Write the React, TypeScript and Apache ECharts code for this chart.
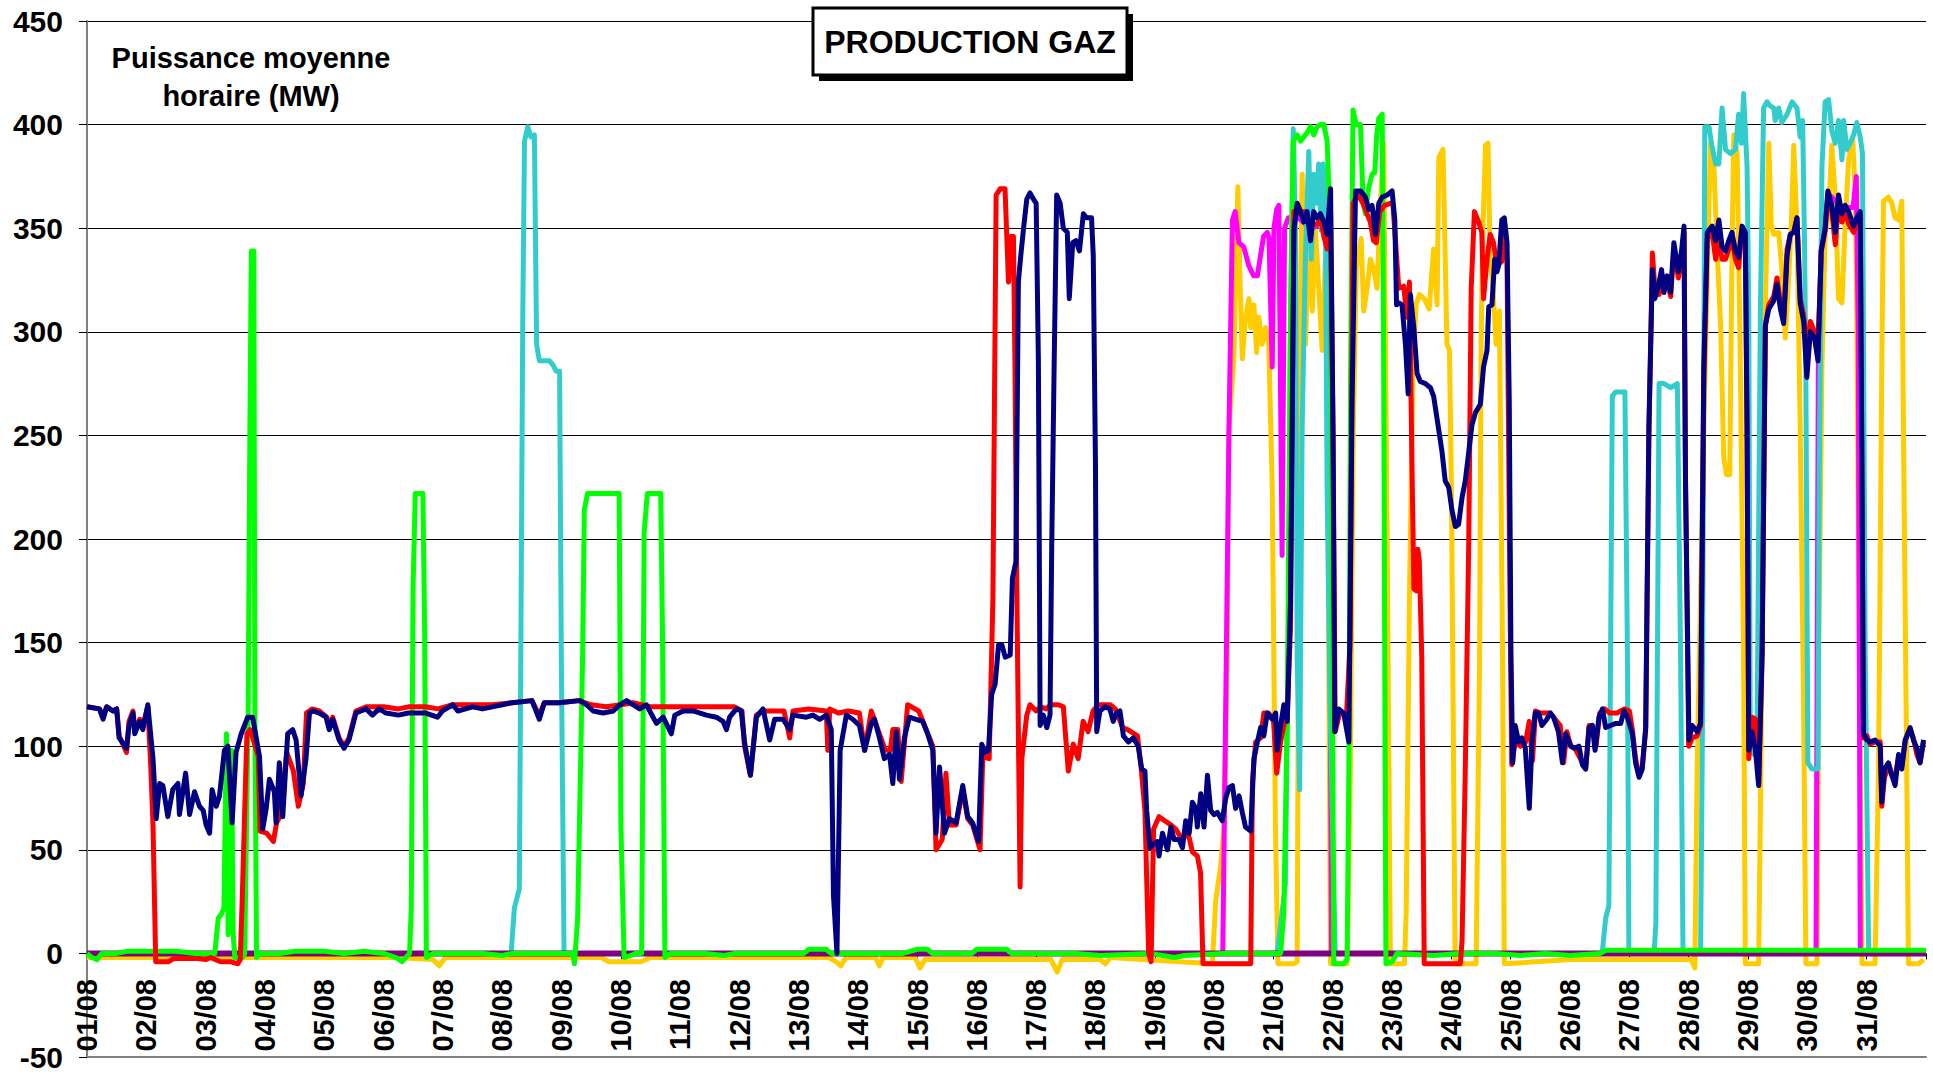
import React, { useEffect, useRef } from "react";
import * as echarts from "echarts";

const DAY_LABELS = ["01/08","02/08","03/08","04/08","05/08","06/08","07/08","08/08","09/08","10/08","11/08","12/08","13/08","14/08","15/08","16/08","17/08","18/08","19/08","20/08","21/08","22/08","23/08","24/08","25/08","26/08","27/08","28/08","29/08","30/08","31/08"];
const Y_MIN = -50, Y_MAX = 450, Y_STEP = 50, HOURS = 744;
const TITLE = "PRODUCTION GAZ";
const Y_NAME = "Puissance moyenne\nhoraire (MW)";

// [hour since 01/08 00:00, MW]
const NAVY = [[0,119],[5,118],[6.5,113],[8,119],[10.5,117],[12,118],[13,104],[16,99],[17,110],[18.6,116],[19.3,106],[21.3,112],[22.6,108],[24.6,120],[26.7,94],[28,65],[29.4,82],[30.7,81],[32.7,66],[34.7,79],[36.8,82],[37.4,67],[39.9,87],[41.5,67],[43.5,78],[45.5,71],[47,69],[48.2,62],[49.6,58],[50.6,79],[52.3,71],[53.6,76],[55.6,98],[57,100],[58.7,63],[60.3,97],[62.4,106],[65,114],[67,114],[69.8,95],[71.1,60],[72.5,70],[73.8,84],[75.8,78],[76.5,63],[77.8,92],[79.2,66],[81.2,106],[83.2,108],[84.6,103],[86.6,76],[88.6,94],[90,116],[91.3,117],[94,116],[96.7,114],[98,108],[99.4,113],[102,103],[104,99],[106,103],[108.8,116],[112.9,118],[115.5,115],[118.2,118],[121,116],[126,115],[130,116],[137,116],[141.8,114],[143.8,117],[148,120],[150,117],[156,119],[160,118],[164,119],[168,120],[172,121],[180,122],[183,113],[185,121],[191,121],[199.4,122],[202.1,120],[204.8,117],[208.8,116],[212.9,117],[215.6,120],[218.3,122],[221,120],[223.6,118],[226.3,120],[229,114],[230.4,111],[233.1,114],[236.4,106],[237.8,115],[241.2,117],[245.2,117],[250.6,115],[254.6,114],[257.3,112],[258.7,108],[260,114],[262.7,118],[264.7,117],[266,102],[268.4,86],[270.8,114],[273.5,118],[276.2,103],[278.2,113],[281.6,113],[284.3,108],[285.6,115],[291,114],[293.7,115],[296.4,113],[299.1,115],[301.1,108],[302,28],[303.4,0],[304.7,98],[307.2,115],[309.8,113],[312.5,110],[314.6,98],[317.3,111],[318.6,113],[320.6,104],[322.6,94],[324.7,96],[326,82],[327.4,107],[328.7,84],[330.7,104],[332.7,114],[335.4,113],[338.1,112],[340.1,106],[342.2,98],[343.5,58],[344.9,90],[346.9,58],[348.9,65],[351.6,63],[354.3,81],[356.3,66],[358.3,63],[360.7,54],[362,101],[363.4,97],[364.7,98],[366,125],[367.4,130],[368.8,149],[370.1,149],[371.5,143],[373.5,144],[374.4,181],[375.8,189],[376.8,324],[377.8,337],[378.9,350],[380.2,364],[381.5,367],[382.9,364],[384,362],[384.9,286],[385.6,110],[386.9,115],[388.3,109],[389.6,115],[390.3,197],[391.3,286],[392.3,366],[393.7,362],[395,350],[396.6,348],[397.4,316],[398.8,343],[400.1,344],[401.5,339],[403.1,357],[404.4,355],[406.4,355],[407.1,337],[408,235],[408.5,107],[409.8,117],[411.8,119],[413.8,118],[415.2,112],[416.5,116],[417.9,117],[419.3,105],[421.3,102],[423.3,104],[425.3,100],[426.7,89],[428,88],[428.7,69],[430,51],[431.7,53],[433.1,54],[433.7,47],[435.1,58],[437.1,50],[438.5,61],[439.8,55],[441.8,55],[443.2,51],[444.5,64],[445.9,58],[447.2,73],[448.6,70],[449.2,61],[450.6,77],[451.9,61],[453.3,86],[454.6,69],[456,67],[457.3,68],[459.3,64],[460.7,75],[462,80],[463.4,81],[464.7,70],[466.1,76],[467.4,68],[468.7,61],[470.8,59],[472.1,94],[473.5,102],[474.8,109],[476.1,105],[477.5,116],[479.5,113],[480.9,116],[481.5,98],[482.9,110],[484.2,120],[485.6,112],[486.9,170],[488.3,349],[489.6,362],[491,358],[492.3,353],[493.6,358],[495,344],[496.3,358],[497.7,355],[499,357],[500.4,353],[501.7,347],[503.1,369],[504.1,253],[504.8,107],[506.4,118],[508.4,116],[510.5,102],[511.8,266],[513.2,368],[515.2,368],[517.2,365],[518.6,359],[519.9,361],[521.3,347],[522.6,362],[524,365],[526,366],[528,368],[529.1,354],[529.8,313],[530.7,314],[532,313],[533.4,294],[534.5,270],[535.4,318],[536.8,302],[538.1,280],[539.4,276],[541.5,275],[543.5,273],[544.8,269],[546.2,258],[548.2,242],[549.5,228],[550.9,225],[552.2,214],[553.6,206],[554.9,207],[556.3,220],[557.6,228],[559,242],[560.3,255],[561.7,261],[563.7,265],[565,283],[566.4,291],[567.1,312],[568.4,313],[569.5,335],[570.4,329],[571.1,332],[572.4,354],[573.4,355],[574.5,343],[575.4,266],[576.1,143],[576.8,92],[577.8,110],[579.2,102],[580.5,104],[581.9,99],[583.5,70],[584.6,102],[585.9,116],[587.3,116],[588.6,110],[590.6,113],[592,116],[593.3,114],[595.3,107],[596.9,92],[598.2,106],[600.3,100],[601.6,99],[603.6,100],[605,91],[606.3,89],[607.7,109],[609,110],[610.1,98],[611.7,114],[613.1,118],[614.4,109],[616.4,110],[618.5,111],[620.5,111],[621.8,117],[623.2,114],[625.2,106],[626.5,92],[627.9,85],[629.2,89],[630.6,109],[631.9,255],[633.3,330],[634.3,316],[635.7,322],[637,330],[638,319],[639.3,327],[640.7,319],[642,343],[643.8,329],[645.1,339],[646.1,351],[646.7,228],[648.1,103],[649.4,110],[651.4,107],[652.8,111],[654.1,283],[655.5,348],[657.5,351],[658.9,344],[660.2,354],[661.5,341],[662.9,339],[664.2,344],[665.5,348],[666.9,339],[668.2,336],[669.6,351],[670.9,348],[671.6,255],[672.3,98],[673.6,107],[675,98],[676.3,81],[677.7,145],[679,303],[680.4,311],[682.4,315],[683.7,323],[685.1,311],[686.4,304],[687.8,337],[689.1,347],[690.5,348],[691.8,355],[693.1,314],[694.5,305],[695.8,278],[697.2,300],[698.9,297],[700.3,286],[701.6,339],[703.2,350],[704.3,368],[705.9,361],[707.3,348],[708.6,366],[710,357],[711.3,361],[712.7,358],[714.7,351],[716,355],[717.4,358],[718.1,228],[718.7,106],[720.1,103],[721.4,102],[723.4,103],[725.5,100],[726.1,73],[727.2,89],[728.8,92],[730.2,86],[731.5,81],[732.9,96],[734.2,89],[735.6,103],[737.6,109],[738.9,103],[740.3,99],[741.6,92],[743,103]];

const RED = [[0,119],[5,118],[6.5,115],[8,119],[10.5,117],[12,118],[13,105],[16,97],[17,112],[18.6,117],[19.3,108],[21.3,113],[22.6,110],[24.6,119],[25.8,90],[26.7,62],[27.8,-4],[30,-4],[33,-4],[35,-2.5],[40,-2.5],[45,-2.5],[48,-3],[50,-2],[54,-4],[58,-4],[61,-5],[62,-3],[62.8,26],[64.1,82],[64.7,106],[66,108],[67.3,103],[69.3,95],[70,59],[72.7,58],[75.4,54],[76.7,63],[78.1,66],[80.8,97],[83.5,88],[85.5,71],[87.5,82],[88.8,116],[91,118],[94,117],[97,114],[98,110],[99.4,114],[102,104],[104,100],[106,104],[108.8,117],[113,119],[120,119],[126,118],[130,119],[137,119],[142,118],[148,120],[156,120],[164,120],[172,121],[180,122],[183,115],[185,121],[191,121],[199,122],[204,120],[210,119],[216,120],[221,121],[228,119],[235,119],[245,119],[255,119],[262,119],[265,117],[266,100],[268.4,86],[270.8,115],[273.5,117],[282,117],[284.3,104],[285.6,117],[292,118],[299.1,117],[299.7,98],[300.5,118],[304,116],[308,117],[312.5,116],[314.6,98],[317.3,117],[320.6,106],[323,98],[325,98],[326,108],[328,108],[329.4,83],[332,120],[336.5,117],[339.5,108],[342.2,100],[343.5,50],[346,55],[347.5,87],[348.9,62],[351.6,62],[354.3,79],[356.3,65],[358.3,62],[361.3,50],[362.4,95],[365,94],[366.5,171],[367.8,366],[369.4,369],[371.4,369],[372.8,324],[373.7,346],[374.8,346],[375.4,286],[376.1,184],[377.5,32],[378.2,94],[380.2,115],[381.5,120],[384,117],[385.9,119],[388,118],[390,120],[393,120],[395,119],[397,88],[399,101],[401,94],[403,112],[405,107],[407,117],[409,120],[414,120],[416,118],[419,109],[421,108],[425,105],[426.5,89],[428,69],[429.5,0],[430.5,-4],[431.5,60],[433.7,66],[436,64],[438.5,62],[440.5,60],[443,55],[445.5,58],[447.2,49],[449.2,47],[450.5,39],[451.5,-5],[460,-5],[470.8,-5],[471.5,83],[472.8,102],[474.8,104],[476.1,116],[478,116],[480,113],[481.3,87],[482.9,102],[484.2,110],[485.6,116],[486.9,157],[488.3,358],[490.3,357],[492.3,358],[494.3,352],[496.3,352],[497.7,352],[499,355],[500.4,346],[501.7,340],[503.1,358],[504.1,250],[505,107],[507,117],[509.5,114],[511,150],[512.2,362],[514.2,366],[516.2,362],[519.2,353],[520.5,344],[521.6,343],[523,358],[525,361],[527.3,362],[528.3,362],[529.6,340],[530.7,321],[532.7,322],[534,307],[535,324],[536,239],[536.8,176],[537.8,175],[538.4,195],[539,190],[540,143],[541,-5],[545,-5],[550,-5],[555.6,-5],[556.3,6],[557.6,88],[559,198],[560,321],[561.3,358],[563,353],[564.3,348],[565,316],[566.4,335],[567.7,347],[569,343],[570.4,332],[572.4,334],[573.4,354],[574.5,334],[575.7,170],[576.4,91],[577.8,102],[580,100],[582,102],[583.5,112],[584.8,93],[586,117],[588,116],[592,116],[596,110],[597.4,92],[598.7,107],[600.3,100],[602,99],[605,92],[606.3,89],[607.7,110],[609,110],[610.5,100],[612,116],[614,118],[616,116],[619,116],[622,118],[624,117],[625.2,108],[626.5,94],[627.9,86],[629.2,90],[630.6,108],[631.9,250],[633.3,338],[634.5,318],[636,318],[637.5,327],[639.3,325],[640.7,317],[642,340],[643.8,326],[645.1,335],[646.1,348],[646.7,230],[648,100],[649.4,104],[651.4,105],[652.8,110],[654.1,275],[655.5,345],[657.5,348],[658.9,335],[660.2,345],[661.5,335],[662.9,335],[664.2,340],[665.5,345],[666.9,335],[668.2,331],[669.6,349],[670.9,346],[671.6,250],[672.3,94],[673.6,114],[675,113],[676.3,82],[677.7,145],[679,303],[680.4,313],[682.4,317],[683.7,326],[685.1,314],[686.4,306],[687.8,340],[689.1,347],[690.5,348],[691.8,355],[693.1,316],[694.5,308],[695.8,290],[697.2,305],[698.9,300],[700.3,290],[701.6,339],[703.2,349],[704.3,366],[705.9,358],[707.3,342],[708.6,362],[710,353],[711.3,358],[712.7,352],[714.7,348],[716,353],[717.4,355],[718.1,228],[718.7,104],[720.1,105],[721.4,101],[723.4,102],[725.5,102],[726.1,71],[727.2,85],[728.8,90],[730.2,86],[731.5,85],[732.9,95],[734.2,91],[735.6,103],[737.6,108],[738.9,104],[740.3,96],[741.6,92],[743,102]];

const GREEN = [[0,0],[2,-2],[4,-3],[6,0],[12,0],[16,1],[24,1],[36,1],[44,0],[51.7,0],[53.1,17],[54.4,19],[55.4,22],[56.4,106],[57.1,9],[58.5,98],[59.1,10],[59.8,-2],[63,-2],[63.8,0],[65.2,115],[65.9,253],[66.5,339],[67.5,339],[67.9,116],[68.6,-2],[70,0],[78,0],[84,1],[96,1],[104,0],[112,1],[120,0],[125,-2],[127.5,-4],[130.5,0],[131.2,22],[131.9,176],[132.8,222],[135.9,222],[136.6,157],[137.3,-2],[140,0],[160,0],[168,-1],[172,0],[196.5,0],[197.2,-5],[198.5,17],[200.5,143],[201.2,214],[202.5,222],[215.3,222],[216,61],[217.3,-2],[220,-1],[222,0],[224.4,0],[225.4,203],[226.7,222],[232.1,222],[232.8,157],[233.8,-2],[236,0],[250,0],[258,-1],[262,0],[290,0],[292,2],[299,2],[301,0],[330,0],[336,2],[340,2],[342,0],[358,0],[360,2],[372,2],[374,0],[400,0],[410,-1],[430,0],[440,-2],[444,-1],[460,0],[482.9,0],[484.2,20],[485.6,116],[486.9,307],[488,392],[489.6,395],[491,392],[492.3,394],[493.6,396],[495,399],[496.3,395],[497.7,399],[499,400],[500.4,400],[501.7,392],[503.1,348],[503.8,143],[504.4,-5],[508.4,-5],[509.8,-3],[510.5,88],[511.2,280],[512.2,407],[513.5,400],[515.2,400],[516.3,362],[517.2,357],[518.6,370],[519.9,376],[521,377],[521.8,395],[522.6,403],[524,405],[524.6,280],[525.5,-5],[528,-4],[530,0],[545,-1],[555,0],[570,0],[580,-1],[590,0],[600,-1],[612,0],[614.5,1.5],[744,1.5]];

const CYAN = [[0,0],[171.6,0],[172.9,22],[174.9,31],[175.5,143],[176.3,307],[177,392],[178.3,399],[179.6,394],[181,395],[181.9,294],[183,286],[187.1,286],[188.5,284],[189.8,281],[191.2,281],[191.9,143],[193,0],[481.5,0],[483.5,20],[484.8,33],[486.2,170],[486.9,307],[488,398],[488.9,349],[489.6,143],[490.6,79],[491.6,253],[492.9,335],[494.3,387],[495.3,335],[496.3,376],[497.7,362],[498.3,381],[499.3,349],[500.1,381],[501,362],[501.7,225],[503,114],[505,0],[613,0],[614.4,17],[615.7,23],[617.1,269],[618.5,271],[622.2,271],[623.2,145],[623.8,0],[634,0],[634.7,14],[636,275],[638,275],[640.7,273],[643.4,275],[644.7,145],[645.7,0],[652.8,0],[653.5,100],[654.5,399],[656.2,399],[657.2,391],[658.9,381],[660.2,381],[661.5,408],[662.9,388],[664.9,386],[666.9,388],[668.2,405],[669.3,391],[670.2,415],[671.6,380],[672.3,311],[672.9,98],[674.3,96],[675.6,97],[677,311],[678.3,408],[679.7,411],[681,409],[682.4,408],[683,402],[684.4,408],[685.7,401],[687.8,405],[689.8,411],[691.8,408],[693.1,394],[694.1,402],[694.9,339],[695.4,278],[696.2,92],[697.9,89],[700.3,89],[700.8,228],[701.9,380],[703.2,411],[704.6,412],[705.9,397],[707.3,391],[708.6,402],[710,383],[710.7,402],[712,388],[713.3,391],[714.7,395],[716,401],[717.4,394],[718.3,386],[719.4,145],[720.8,0],[744,0]];

const YELLOW = [[0,-2],[60,-2],[125,-2],[140,-3],[142.5,-6],[145,-2],[208,-2],[211,-4],[224,-4],[228,-2],[300,-2],[303,-4],[305,-6],[307,-2],[319,-2],[320.6,-6],[322,-2],[335,-2],[337,-7],[339,-3],[390,-3],[392.5,-9],[394.5,-3],[410,-3],[412,-5],[414,-2],[455.3,-5],[456.6,25],[458.6,42],[460,61],[461.3,143],[462,253],[462.7,266],[464,288],[465.6,370],[466.4,327],[467.4,287],[468.7,307],[470.1,316],[470.8,302],[472.1,313],[473.2,290],[474.1,307],[475.4,294],[476.8,302],[478.1,294],[479.5,225],[480.8,61],[481.8,-5],[488.3,-5],[489.6,-4],[490.3,198],[491,321],[491.6,376],[492.6,335],[493,294],[494.3,349],[495.7,310],[497,349],[498.4,320],[499.7,291],[501,335],[501.7,290],[503.1,-5],[509.8,-5],[511.1,88],[512.3,253],[513.5,330],[515.5,345],[516.5,310],[517.9,321],[519.2,335],[520.6,330],[521.9,321],[523.3,362],[524.6,391],[526,200],[527.3,-5],[533,-5],[533.7,20],[535,170],[536.4,280],[537.7,313],[539,318],[541,316],[543,311],[544.8,340],[546.2,313],[546.9,384],[548.6,388],[550.2,294],[551.2,291],[552,225],[553.5,-5],[562,-5],[563.4,143],[564,294],[564.7,348],[565.8,390],[566.8,391],[567.7,335],[568.8,321],[570.1,294],[571.4,310],[572.7,143],[573.4,-5],[600,-3],[640,-3],[649,-3],[650.5,-7],[651.4,88],[652.8,172],[654.1,255],[655.5,325],[656.8,391],[658.2,380],[659.5,339],[660.9,303],[662.2,239],[663.3,231],[664.6,231],[665.4,325],[666.2,395],[667.6,386],[668.9,283],[670.2,145],[670.9,-5],[676.3,-5],[677.7,145],[679,311],[680.4,391],[681.4,352],[682.4,347],[684.4,348],[685.7,330],[687.1,297],[688.4,325],[689.5,352],[690.5,390],[691.8,350],[693.1,255],[694.5,117],[695.4,-5],[699.9,-5],[700.6,145],[701.9,283],[703.2,347],[704.6,358],[705.9,390],[707.3,365],[708.6,316],[710,314],[711.3,352],[712.7,383],[714.3,394],[715.4,366],[716,311],[717.4,89],[718.1,-5],[723.4,-5],[724.8,89],[726.1,283],[726.8,363],[728.8,365],[730.2,362],[731.5,355],[732.9,354],[734.2,363],[734.9,250],[736.2,89],[736.9,-5],[741,-5],[743,-3]];

const MAGENTA = [[0,0],[459.5,0],[460.5,100],[462,253],[463.4,354],[464.5,358],[466,343],[468,341],[470,332],[472,327],[473.5,327],[474.8,337],[476,346],[477.5,348],[478.2,345],[479.5,283],[480.2,350],[481.3,359],[482.2,361],[482.8,280],[483.5,192],[484.5,350],[486,355],[490,355],[495,350],[500,352],[501.7,350],[502.7,200],[503.5,0],[699.5,0],[700.5,300],[702,350],[705,366],[710,360],[714.5,360],[715.8,375],[716.6,300],[717.4,0],[744,0]];

const PURPLE = [[0,0],[744,0]];

const SERIES = [
  { name: "Yellow", data: YELLOW, color: "#FFCC00", width: 5 },
  { name: "Magenta", data: MAGENTA, color: "#FF00FF", width: 5 },
  { name: "Cyan", data: CYAN, color: "#33CCCC", width: 5 },
  { name: "Purple", data: PURPLE, color: "#800080", width: 6 },
  { name: "Green", data: GREEN, color: "#00FF00", width: 5 },
  { name: "Red", data: RED, color: "#FF0000", width: 5 },
  { name: "Navy", data: NAVY, color: "#000080", width: 5 },
];

const FONT = "'Liberation Sans', Arial, sans-serif";

export default function App() {
  const ref = useRef<HTMLDivElement>(null);
  useEffect(() => {
    if (!ref.current) return;
    const chart = echarts.init(ref.current, undefined, { renderer: "svg" });
    const dayFormatter = (v: number) => {
      const i = Math.round(v / 24);
      return Math.abs(v - i * 24) < 0.01 && i >= 0 && i < DAY_LABELS.length ? DAY_LABELS[i] : "";
    };
    chart.setOption({
      animation: false,
      backgroundColor: "#ffffff",
      grid: { left: 87, right: 7, top: 21, bottom: 23, containLabel: false, outerBoundsMode: "none" },
      xAxis: [
        {
          type: "value", min: 0, max: HOURS, interval: 24, position: "bottom",
          axisLine: { show: true, onZero: false, lineStyle: { color: "#808080", width: 2 } },
          axisTick: { show: false },
          axisLabel: {
            rotate: 90, margin: -78, fontSize: 29, fontWeight: "bold", fontFamily: FONT, color: "#000",
            formatter: dayFormatter,
          },
          splitLine: { show: false },
        },
        {
          type: "value", min: 0, max: HOURS, interval: 24, position: "bottom",
          axisLine: { show: false, onZero: true, onZeroAxisIndex: 0 },
          axisTick: { show: true, length: 6, lineStyle: { color: "#000000", width: 1 } },
          axisLabel: { show: false }, splitLine: { show: false },
        },
      ],
      yAxis: {
        type: "value", min: Y_MIN, max: Y_MAX, interval: Y_STEP,
        axisLine: { show: true, onZero: false, lineStyle: { color: "#808080", width: 2 } },
        axisTick: { show: true, length: 8, lineStyle: { color: "#000" } },
        axisLabel: { margin: 24, fontSize: 30, fontWeight: "bold", fontFamily: FONT, color: "#000" },
        splitLine: { show: true, lineStyle: { color: "#000000", width: 1 } },
      },
      series: SERIES.map((s) => ({
        name: s.name, type: "line", data: s.data, showSymbol: false, symbol: "none",
        silent: true, xAxisIndex: 0,
        lineStyle: { color: s.color, width: s.width, join: "round" },
        itemStyle: { color: s.color },
      })),
      graphic: [
        { type: "rect", shape: { x: 819, y: 14, width: 314, height: 67 }, style: { fill: "#000" }, z: 100 },
        { type: "rect", shape: { x: 813, y: 8, width: 314, height: 67 }, style: { fill: "#fff", stroke: "#000", lineWidth: 3 }, z: 101 },
        { type: "text", x: 970, y: 42, style: { text: TITLE, fill: "#000", font: `bold 32px ${FONT}`, textAlign: "center", textVerticalAlign: "middle" }, z: 102 },
        { type: "text", x: 251, y: 77, style: { text: Y_NAME, fill: "#000", font: `bold 29px ${FONT}`, textAlign: "center", textVerticalAlign: "middle", lineHeight: 38 }, z: 102 },
      ],
    });
    return () => chart.dispose();
  }, []);
  return <div ref={ref} style={{ position: "fixed", left: 0, top: 0, width: 1933, height: 1080 }} />;
}
